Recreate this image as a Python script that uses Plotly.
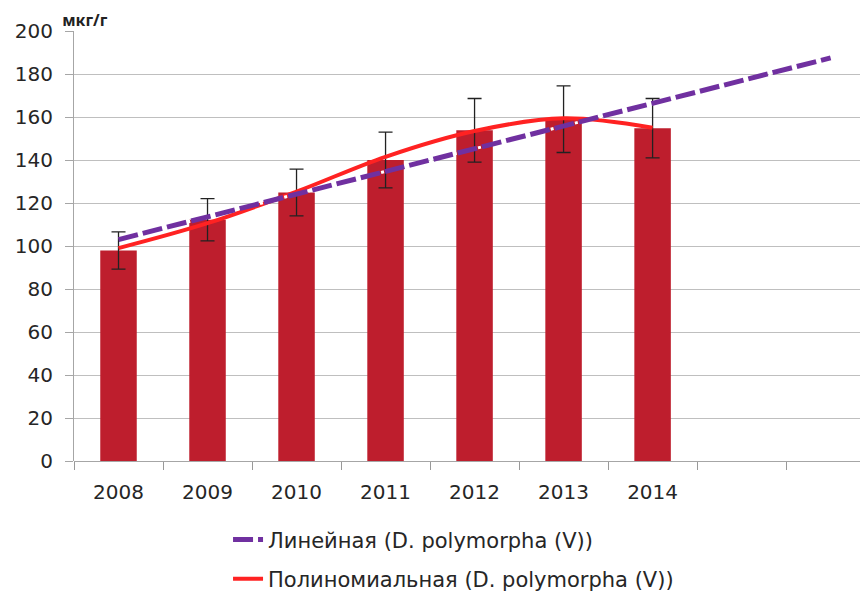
import plotly.graph_objects as go

categories = ["2008", "2009", "2010", "2011", "2012", "2013", "2014", " ", "  "]
years = ["2008", "2009", "2010", "2011", "2012", "2013", "2014"]
values = [97.9, 112.2, 124.9, 140.0, 153.8, 159.0, 154.8]
errors = [8.7, 9.8, 10.9, 13.0, 14.8, 15.5, 13.8]

linear_x = ["2008", "  "]
linear_y = [103.0, 187.5]

poly_x = ["2008", "2009", "2010", "2011", "2012", "2013", "2014"]
poly_y = [99.0, 110.6, 125.3, 141.5, 153.5, 159.4, 155.0]

y_ticks = [0, 20, 40, 60, 80, 100, 120, 140, 160, 180, 200]

fig = go.Figure()

fig.add_trace(go.Bar(
    x=years, y=values,
    marker=dict(color="#BE1E2D", line=dict(width=0)),
    width=0.41,
    error_y=dict(type="data", array=errors, visible=True,
                 color="#222222", thickness=1.3, width=7),
    showlegend=False,
))

fig.add_trace(go.Scatter(
    x=poly_x, y=poly_y, mode="lines",
    line=dict(color="#FF2222", width=4, shape="spline", smoothing=1.0),
    name="Полиномиальная (D. polymorpha (V))",
    legendgroup="b", legendrank=2,
))

fig.add_trace(go.Scatter(
    x=linear_x, y=linear_y, mode="lines",
    line=dict(color="#7030A0", width=5, dash="20px,5px"),
    name="Линейная (D. polymorpha (V))",
    legendgroup="a", legendrank=1,
))

fig.add_trace(go.Scatter(
    x=linear_x, y=linear_y, mode="lines",
    line=dict(color="white", width=3, dash="0px,21px,3px,1px"),
    showlegend=False, hoverinfo="skip",
))

fig.update_layout(
    width=860, height=585,
    margin=dict(l=66, r=0, t=23, b=132, autoexpand=False),
    paper_bgcolor="white", plot_bgcolor="white",
    font=dict(family="DejaVu Sans", color="#262626"),
    title=dict(
        text="мкг/г",
        x=0.063, xanchor="left", xref="container",
        y=0.978, yanchor="middle", yref="container",
        font=dict(family="Noto Sans", size=16, color="#222222", weight="bold"),
        pad=dict(t=0, b=0, l=0, r=0),
    ),
    legend=dict(
        x=0.194, y=0.126, xanchor="left", yanchor="top",
        yref="container",
        orientation="v",
        font=dict(family="DejaVu Sans", size=21, color="#262626"),
        tracegroupgap=9,
        bgcolor="rgba(0,0,0,0)",
    ),
    xaxis=dict(
        type="category",
        categoryorder="array", categoryarray=categories,
        range=[-0.5, 8.42],
        tickson="boundaries",
        ticks="outside", ticklen=8, tickcolor="#999999",
        showline=False,
        showgrid=False,
        tickfont=dict(family="DejaVu Sans", size=20, color="#262626"),
        ticklabelstandoff=17,
    ),
    yaxis=dict(
        range=[0, 200],
        tickvals=y_ticks,
        ticks="outside", ticklen=8, tickcolor="#A6A6A6",
        showline=True, linecolor="#A6A6A6", linewidth=1,
        showgrid=True, gridcolor="#BFBFBF", gridwidth=1,
        zeroline=True, zerolinecolor="#A6A6A6", zerolinewidth=1,
        tickfont=dict(family="DejaVu Sans", size=20, color="#262626"),
        ticklabelstandoff=8,
    ),
)

fig.write_html("out.html")
